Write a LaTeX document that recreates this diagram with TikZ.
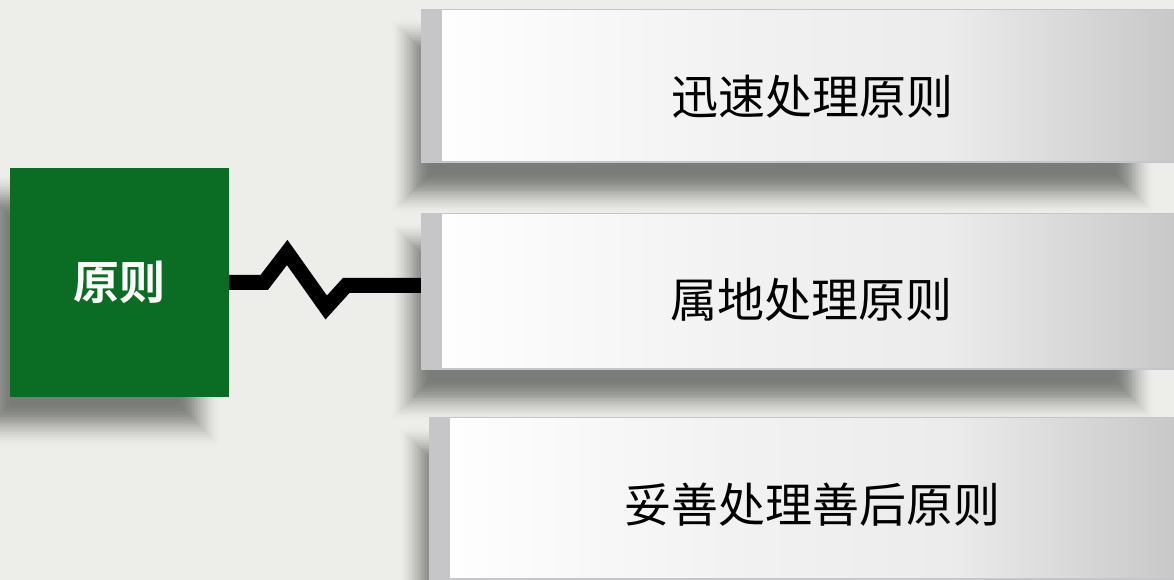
\documentclass[tikz,border=0pt]{standalone}
\usepackage{fontspec}
\usetikzlibrary{calc}
\newfontfamily\cjk[BoldFont={Noto Sans CJK SC Bold}]{Noto Sans CJK SC}
\definecolor{bgc}{HTML}{EDEEEA}
\definecolor{grn}{HTML}{0B6D23}
\definecolor{strip}{HTML}{C6C6C8}
\definecolor{shA}{HTML}{F2F2F2}
\definecolor{shB}{HTML}{C8C8C8}
\definecolor{shd}{HTML}{7A7C78}
\pgfdeclarehorizontalshading{boxshade}{100bp}{color(0bp)=(white); color(25bp)=(white); color(45bp)=(shA); color(60bp)=(shA!85!shB); color(75bp)=(shB); color(100bp)=(shB)}
\pgfdeclarelayer{background}
\pgfsetlayers{background,main}
% #1 node, #2 left shift, #3 right shift, #4 vertical shift, #5 blur radius
\newcommand{\boxshadow}[5]{%
  \begin{pgfonlayer}{background}
  \foreach \i in {0,...,29}{%
    \pgfmathsetmacro{\rr}{#5*(1-2*\i/29)}%
    \pgfmathsetmacro{\pc}{100*(1-cos(180*(\i+1)/30))/2}%
    \fill[shd!\pc!bgc] ($(#1.south west)+(#2-\rr,#4-\rr)$) rectangle ($(#1.north east)+(#3+\rr,#4+\rr)$);
  }%
  \end{pgfonlayer}%
}
\begin{document}
\begin{tikzpicture}[x=1pt,y=1pt,
  gbox/.style={rectangle, fill=grn, inner sep=0pt, minimum width=219pt, minimum height=229pt,
    text=white, font=\cjk\bfseries\fontsize{46}{50}\selectfont},
  pbox/.style={rectangle, fill=strip, inner sep=0pt,
    path picture={\fill[shading=boxshade] ([xshift=21pt,yshift=2pt]path picture bounding box.south west) rectangle ([yshift=-1.5pt]path picture bounding box.north east);}},
  ptext/.style={inner sep=0pt, text=black, font=\cjk\fontsize{47}{50}\selectfont},
  conn/.style={line width=15pt, line join=miter, line cap=butt, draw=black}
]
\begin{pgfonlayer}{background}
\fill[bgc] (0,0) rectangle (1174,580);
\end{pgfonlayer}
\useasboundingbox (0,0) rectangle (1174,580);

\node[pbox, minimum width=753pt, minimum height=154pt] (b1) at (797.5,494) {};
\node[pbox, minimum width=753pt, minimum height=157pt] (b2) at (797.5,288.5) {};
\node[pbox, minimum width=745pt, minimum height=163pt] (b3) at (801.5,81.5) {};

\boxshadow{b1}{-10}{-40}{-30}{21}
\boxshadow{b2}{-10}{-40}{-30}{21}
\boxshadow{b3}{-10}{-40}{-30}{21}

\node[ptext] (t1) at (812,483) {迅速处理原则};
\node[ptext] (t2) at (811,280) {属地处理原则};
\node[ptext] (t3) at (812,75) {妥善处理善后原则};

\node[gbox] (g) at (119.5,297.5) {原则};
\boxshadow{g}{-20}{-30}{-28}{22}

\draw[conn] (g.east) -- ++(35,0) -- ++(23,30) -- ++(39,-55) -- ++(20,22) -- (b2.west |- 0,294.5);
\end{tikzpicture}
\end{document}
